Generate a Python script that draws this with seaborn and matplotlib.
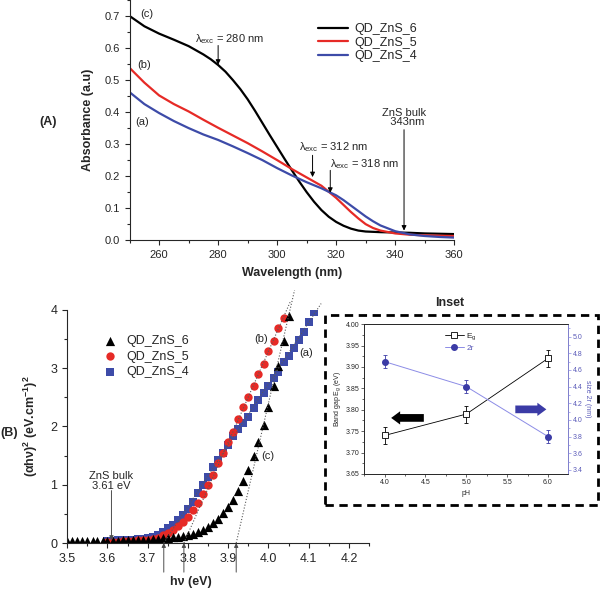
import numpy as np
import pandas as pd
import matplotlib
matplotlib.use("Agg")
import matplotlib.pyplot as plt
import seaborn as sns
from matplotlib.patches import Rectangle, FancyArrow
from matplotlib.lines import Line2D
from matplotlib.ticker import MultipleLocator, FormatStrFormatter

sns.set_style("ticks")
plt.rcParams['font.family'] = ['Liberation Sans', 'DejaVu Sans']
plt.rcParams['mathtext.default'] = 'regular'

# ---- (A) absorbance spectra ----
wl_6 = [250, 255, 260, 265, 270, 275, 277.5, 280, 282.5, 285, 287.5, 290, 292.5,
        295, 297.5, 300, 302.5, 305, 307.5, 310, 312.5, 315, 317.5, 320, 322.5,
        325, 327.5, 330, 335, 340, 345, 350, 355, 360]
abs_6 = [0.700, 0.668, 0.645, 0.626, 0.606, 0.580, 0.565, 0.547, 0.526, 0.500,
         0.472, 0.440, 0.404, 0.366, 0.328, 0.291, 0.254, 0.218, 0.183, 0.150,
         0.120, 0.094, 0.073, 0.057, 0.045, 0.036, 0.030, 0.027, 0.025, 0.024,
         0.023, 0.021, 0.020, 0.019]
wl_54 = [250, 255, 260, 265, 270, 275, 280, 285, 290, 295, 300, 305, 310, 315,
         320, 322.5, 325, 327.5, 330, 332.5, 335, 340, 345, 350, 355, 360]
abs_5 = [0.538, 0.492, 0.452, 0.425, 0.402, 0.376, 0.351, 0.327, 0.303, 0.277,
         0.250, 0.222, 0.196, 0.170, 0.132, 0.110, 0.088, 0.068, 0.050, 0.038,
         0.030, 0.021, 0.017, 0.015, 0.014, 0.013]
abs_4 = [0.462, 0.425, 0.397, 0.372, 0.350, 0.330, 0.313, 0.293, 0.272, 0.250,
         0.225, 0.202, 0.181, 0.162, 0.140, 0.125, 0.108, 0.091, 0.074, 0.059,
         0.046, 0.028, 0.018, 0.013, 0.010, 0.008]
samples = ['QD_ZnS_6', 'QD_ZnS_5', 'QD_ZnS_4']

# ---- (B) Tauc plot ----
hv_6 = [3.500, 3.513, 3.525, 3.538, 3.550, 3.563, 3.575, 3.588, 3.600, 3.613,
        3.625, 3.638, 3.650, 3.663, 3.675, 3.688, 3.700, 3.713, 3.725, 3.738,
        3.750, 3.763, 3.775, 3.788, 3.800, 3.813, 3.825, 3.838, 3.850, 3.863,
        3.875, 3.888, 3.900, 3.913, 3.925, 3.938, 3.950, 3.963, 3.975, 3.988,
        4.000, 4.013, 4.025, 4.038, 4.050]
tauc_6 = [0.03, 0.03, 0.03, 0.03, 0.03, 0.035, 0.035, 0.035, 0.04, 0.04,
          0.04, 0.045, 0.045, 0.05, 0.05, 0.055, 0.06, 0.065, 0.07, 0.08,
          0.09, 0.10, 0.11, 0.12, 0.14, 0.16, 0.19, 0.23, 0.28, 0.34,
          0.42, 0.51, 0.61, 0.74, 0.89, 1.06, 1.26, 1.49, 1.74, 2.03,
          2.34, 2.69, 3.04, 3.46, 3.89]
hv_5 = [3.600, 3.613, 3.625, 3.638, 3.650, 3.663, 3.675, 3.688, 3.700, 3.713,
        3.725, 3.738, 3.750, 3.763, 3.775, 3.788, 3.800, 3.813, 3.825, 3.838,
        3.850, 3.863, 3.875, 3.888, 3.900, 3.913, 3.925, 3.938, 3.950, 3.963,
        3.975, 3.988, 4.000, 4.013, 4.025, 4.038]
tauc_5 = [0.02, 0.02, 0.025, 0.03, 0.035, 0.04, 0.045, 0.05, 0.06, 0.075,
          0.09, 0.13, 0.17, 0.22, 0.29, 0.36, 0.44, 0.56, 0.68, 0.84,
          1.00, 1.17, 1.37, 1.55, 1.74, 1.91, 2.13, 2.33, 2.50, 2.70,
          2.90, 3.07, 3.30, 3.47, 3.69, 3.86]
hv_4 = [3.600, 3.613, 3.625, 3.638, 3.650, 3.663, 3.675, 3.688, 3.700, 3.713,
        3.725, 3.738, 3.750, 3.763, 3.775, 3.788, 3.800, 3.813, 3.825, 3.838,
        3.850, 3.863, 3.875, 3.888, 3.900, 3.913, 3.925, 3.938, 3.950, 3.963,
        3.975, 3.988, 4.000, 4.013, 4.025, 4.038, 4.050, 4.063, 4.075, 4.088,
        4.100, 4.113]
tauc_4 = [0.04, 0.04, 0.045, 0.05, 0.055, 0.06, 0.065, 0.07, 0.08, 0.10,
          0.14, 0.19, 0.25, 0.31, 0.39, 0.48, 0.58, 0.71, 0.86, 1.00,
          1.14, 1.30, 1.43, 1.55, 1.69, 1.83, 1.95, 2.06, 2.17, 2.31,
          2.45, 2.57, 2.69, 2.83, 2.94, 3.10, 3.21, 3.35, 3.49, 3.62,
          3.80, 3.97]
# tangent lines: x-intercept (band gap) and upper end point
gap_c, top_c = 3.92, (4.065, 4.34)
gap_b, top_b = 3.79, (4.055, 4.15)
gap_a, top_a = 3.74, (4.131, 4.11)

# ---- inset ----
pH = [4.0, 5.0, 6.0]
eg = [3.74, 3.79, 3.92]
eg_err = [0.02, 0.02, 0.02]
size_2r = [4.7, 4.4, 3.8]
size_err = [0.08, 0.08, 0.08]

c_red = '#e62a26'
c_blue = '#3d4ba8'

fig = plt.figure(figsize=(6, 5.93), dpi=100)

# ================= panel A =================
axA = fig.add_axes([0.216, 0.595, 0.541, 0.405])
for x, y, lab, col in zip([wl_6, wl_54, wl_54], [abs_6, abs_5, abs_4], samples,
                          ['k', c_red, c_blue]):
    sns.lineplot(x=x, y=y, ax=axA, color=col, lw=1.6, label=lab)
axA.set_xlim(250, 360)
axA.set_ylim(0, 0.75)
axA.xaxis.set_major_locator(MultipleLocator(20))
axA.xaxis.set_minor_locator(MultipleLocator(10))
axA.yaxis.set_major_locator(MultipleLocator(0.1))
axA.yaxis.set_minor_locator(MultipleLocator(0.05))
axA.yaxis.set_major_formatter(FormatStrFormatter('%.1f'))
axA.set_yticks(np.arange(0, 0.71, 0.1))
sns.despine(ax=axA)
axA.tick_params(labelsize=8, length=3.5, width=0.8)
axA.tick_params(which='minor', length=2, width=0.8)
axA.set_xlabel('Wavelength (nm)', fontsize=9, fontweight='bold')
axA.set_ylabel('Absorbance (a.u)', fontsize=9, fontweight='bold')
axA.xaxis.set_label_coords(0.5, -0.11)
axA.yaxis.set_label_coords(-0.11, 0.5)
axA.legend(loc='upper left', bbox_to_anchor=(0.56, 0.93), frameon=False,
           fontsize=9, handlelength=2.4, labelspacing=0.12, borderpad=0,
           handletextpad=0.5)

fs = 8
axA.text(255.8, 0.705, '(c)', fontsize=fs, ha='center', va='center')
axA.text(255.0, 0.548, '(b)', fontsize=fs, ha='center', va='center')
axA.text(254.1, 0.370, '(a)', fontsize=fs, ha='center', va='center')
arrowA = dict(arrowstyle='-|>', color='k', lw=0.7, mutation_scale=7,
              shrinkA=0, shrinkB=0)
axA.text(284, 0.627, r'$\lambda_{exc}$ = 280 nm', fontsize=fs, ha='center', va='center')
axA.annotate('', xy=(280, 0.548), xytext=(280, 0.608), arrowprops=arrowA)
axA.text(319, 0.291, r'$\lambda_{exc}$ = 312 nm', fontsize=fs, ha='center', va='center')
axA.annotate('', xy=(312, 0.197), xytext=(312, 0.265), arrowprops=arrowA)
axA.text(329.5, 0.239, r'$\lambda_{exc}$ = 318 nm', fontsize=fs, ha='center', va='center')
axA.annotate('', xy=(318, 0.148), xytext=(318, 0.218), arrowprops=arrowA)
axA.text(343, 0.383, 'ZnS bulk\n  343nm', fontsize=fs, ha='center', va='center',
         linespacing=0.95)
axA.annotate('', xy=(343, 0.03), xytext=(343, 0.345), arrowprops=arrowA)
fig.text(0.08, 0.794, '(A)', fontsize=9, fontweight='bold', ha='center', va='center')

# ================= panel B =================
axB = fig.add_axes([0.112, 0.0843, 0.503, 0.393])
sns.scatterplot(x=hv_4, y=tauc_4, ax=axB, marker='s', s=26, color=c_blue,
                linewidth=0, label=samples[2])
sns.scatterplot(x=hv_5, y=tauc_5, ax=axB, marker='o', s=36, color=c_red,
                linewidth=0, label=samples[1])
sns.scatterplot(x=hv_6, y=tauc_6, ax=axB, marker='^', s=44, color='k',
                linewidth=0, label=samples[0])
for g, top in [(gap_c, top_c), (gap_b, top_b), (gap_a, top_a)]:
    axB.plot([g, top[0]], [0, top[1]], ls=':', color='0.35', lw=0.8, clip_on=False)
    axB.annotate('', xy=(g, 0), xytext=(g, -0.5), annotation_clip=False,
                 arrowprops=dict(arrowstyle='-|>', color='0.3', lw=0.7,
                                 mutation_scale=6, shrinkA=0, shrinkB=0))
axB.set_xlim(3.5, 4.25)
axB.set_ylim(0, 4)
axB.xaxis.set_major_locator(MultipleLocator(0.1))
axB.xaxis.set_minor_locator(MultipleLocator(0.05))
axB.yaxis.set_major_locator(MultipleLocator(1))
axB.yaxis.set_minor_locator(MultipleLocator(0.5))
axB.xaxis.set_major_formatter(FormatStrFormatter('%.1f'))
axB.set_xticks(np.arange(3.5, 4.21, 0.1))
sns.despine(ax=axB)
axB.tick_params(labelsize=9, length=3.5, width=0.8)
axB.tick_params(which='minor', length=2, width=0.8)
axB.set_xlabel('hν (eV)', fontsize=9, fontweight='bold')
axB.set_ylabel('(αhν)$^2$ (eV.cm$^{-1}$)$^2$', fontsize=9, fontweight='bold')
axB.xaxis.set_label_coords(0.41, -0.14)
axB.yaxis.set_label_coords(-0.09, 0.5)
h, l = axB.get_legend_handles_labels()
axB.legend(h[::-1], l[::-1], loc='upper left', bbox_to_anchor=(0.10, 0.92),
           frameon=False, fontsize=9, handlelength=1.0, labelspacing=0.3,
           borderpad=0, handletextpad=0.8)
axB.text(3.983, 3.51, '(b)', fontsize=fs, ha='center', va='center')
axB.text(4.094, 3.26, '(a)', fontsize=fs, ha='center', va='center')
axB.text(3.999, 1.49, '(c)', fontsize=fs, ha='center', va='center')
axB.text(3.61, 1.07, 'ZnS bulk\n3.61 eV', fontsize=fs, ha='center', va='center',
         linespacing=1.0)
axB.annotate('', xy=(3.61, 0.05), xytext=(3.61, 0.9),
             arrowprops=dict(arrowstyle='-|>', color='0.3', lw=0.7,
                             mutation_scale=6, shrinkA=0, shrinkB=0))
fig.text(0.015, 0.27, '(B)', fontsize=9, fontweight='bold', ha='center', va='center')

# ================= inset =================
fig.patches.append(Rectangle((0.542, 0.148), 0.455, 0.32, transform=fig.transFigure,
                             fill=False, ec='k', lw=2, ls=(0, (3, 2))))
fig.text(0.75, 0.489, 'Inset', fontsize=9, fontweight='bold', ha='center', va='center')

c_line2 = '#8c8ce6'
c_pt2 = '#3b3ba6'
axI = fig.add_axes([0.607, 0.2007, 0.339, 0.2526])
axI.errorbar(pH, eg, yerr=eg_err, color='k', lw=0.6, marker='s', ms=4,
             mfc='white', mec='k', mew=0.6, capsize=1.5, elinewidth=0.6,
             capthick=0.6)
axI.set_xlim(3.75, 6.24)
axI.set_ylim(3.65, 4.00)
axI.xaxis.set_major_locator(MultipleLocator(0.5))
axI.xaxis.set_minor_locator(MultipleLocator(0.25))
axI.yaxis.set_major_locator(MultipleLocator(0.05))
axI.yaxis.set_minor_locator(MultipleLocator(0.025))
axI.xaxis.set_major_formatter(FormatStrFormatter('%.1f'))
axI.yaxis.set_major_formatter(FormatStrFormatter('%.2f'))
axI.tick_params(labelsize=5, length=2, width=0.5, pad=1.5)
axI.tick_params(which='minor', length=1.2, width=0.5)
axI.set_xlabel('pH', fontsize=5, labelpad=3)
axI.set_ylabel('Band gap E$_g$ (eV)', fontsize=5, labelpad=2)
for sp in axI.spines.values():
    sp.set_linewidth(0.6)

axR = axI.twinx()
axR.errorbar(pH, size_2r, yerr=size_err, color=c_line2, lw=0.7, marker='o', ms=4,
             mfc=c_pt2, mec=c_pt2, ecolor=c_pt2, capsize=1.5, elinewidth=0.6,
             capthick=0.6)
axR.set_ylim(3.35, 5.15)
axR.yaxis.set_major_locator(MultipleLocator(0.2))
axR.yaxis.set_minor_locator(MultipleLocator(0.1))
axR.set_yticks(np.arange(3.4, 5.01, 0.2))
axR.yaxis.set_major_formatter(FormatStrFormatter('%.1f'))
axR.tick_params(labelsize=5, length=2, width=0.5, pad=1.5, colors=c_line2,
                labelcolor='#5a5ab8')
axR.tick_params(which='minor', length=1.2, width=0.5, colors=c_line2)
for sp in axR.spines.values():
    sp.set_linewidth(0.6)
axR.spines['right'].set_color(c_line2)
axR.set_ylabel('size 2r (nm)', fontsize=5, color='#5a5ab8', rotation=270,
               labelpad=6)

axI.add_patch(FancyArrow(4.48, 3.781, -0.40, 0, width=0.018, head_width=0.031,
                         head_length=0.11, length_includes_head=True,
                         color='k', lw=0))
axI.add_patch(FancyArrow(5.60, 3.801, 0.38, 0, width=0.018, head_width=0.031,
                         head_length=0.11, length_includes_head=True,
                         color=c_pt2, lw=0))
hI = [Line2D([], [], color='k', lw=0.6, marker='s', ms=4, mfc='white', mec='k', mew=0.6),
      Line2D([], [], color=c_line2, lw=0.7, marker='o', ms=4, mfc=c_pt2, mec=c_pt2)]
legI = axI.legend(hI, ['E$_g$', '2r'], loc='upper left', bbox_to_anchor=(0.37, 0.99),
                  frameon=False, fontsize=6, handlelength=2.2, labelspacing=0.2,
                  borderpad=0.2, handletextpad=0.3)
legI.get_texts()[1].set_color('#5a5ab8')

fig.savefig('out.png', dpi=100)
